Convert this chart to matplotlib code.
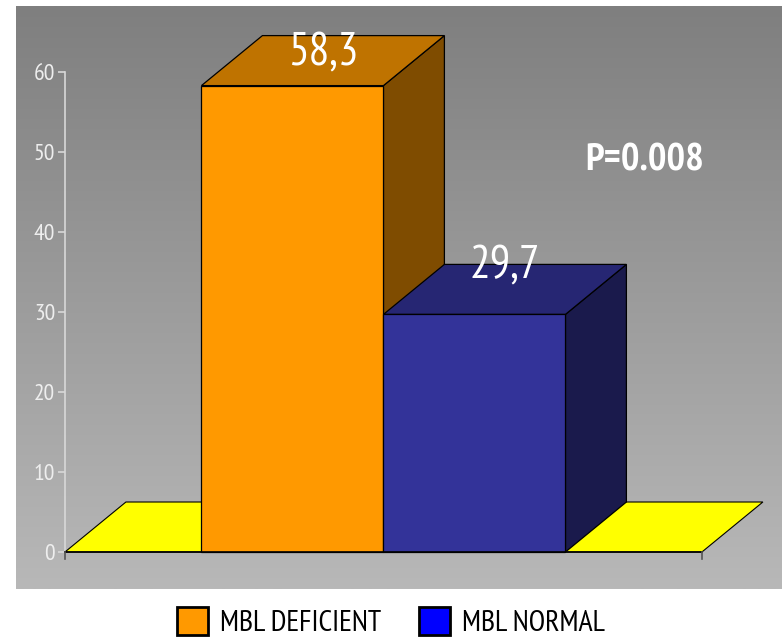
import matplotlib
matplotlib.use("Agg")
import matplotlib.pyplot as plt
import numpy as np
from matplotlib.patches import Polygon, Patch
from matplotlib import font_manager

names = {f.name for f in font_manager.fontManager.ttflist}
NARROW = "DejaVu Sans"
for cand in ["Liberation Sans Narrow", "Arial Narrow", "PT Sans Narrow", "Archivo Narrow"]:
    if cand in names:
        NARROW = cand
        break
FAM = [NARROW, "DejaVu Sans"]

# ---- data ----
categories = ["MBL DEFICIENT", "MBL NORMAL"]
values = [58.3, 29.7]
value_labels = ["58,3", "29,7"]
yticks = [0, 10, 20, 30, 40, 50, 60]
annotation = "P=0.008"

# ---- styles ----
front_colors = ["#FF9900", "#333399"]
top_colors = ["#BF7300", "#262673"]
side_colors = ["#7F4C00", "#1A1A4C"]
legend_colors = ["#FF9900", "#0000FF"]
floor_color = "#FFFF00"

W, H = 784, 639
fig = plt.figure(figsize=(W / 100, H / 100), dpi=100)

xpx0, xpx1, ypx0, ypx1 = 16, 782, 6, 589
ax = fig.add_axes([xpx0 / W, (H - ypx1) / H, (xpx1 - xpx0) / W, (ypx1 - ypx0) / H])

gap = 0.75
bw = 1.0
n = len(values)
floor_len = 2 * gap + n * bw
dx, dy = 0.335, 6.25
ax.set_xlim(-0.269, 3.940)
ax.set_ylim(-4.625, 68.25)

grad = np.linspace(0, 1, 256).reshape(-1, 1)
ax.imshow(grad, extent=[-0.269, 3.940, -4.625, 68.25], aspect="auto",
          cmap=matplotlib.colors.LinearSegmentedColormap.from_list("g", ["#b8b8b8", "#7f7f7f"]),
          origin="lower", zorder=0)

floor = Polygon([(0, 0), (floor_len, 0), (floor_len + dx, dy), (dx, dy)],
                closed=True, facecolor=floor_color, edgecolor="black", lw=0.8, zorder=2)
ax.add_patch(floor)

label_offsets = [4.1, 6.1]
for i, v in enumerate(values):
    x0 = gap + i * bw
    x1 = x0 + bw
    front = Polygon([(x0, 0), (x1, 0), (x1, v), (x0, v)], closed=True,
                    facecolor=front_colors[i], edgecolor="black", lw=0.9, zorder=3 + i)
    top = Polygon([(x0, v), (x1, v), (x1 + dx, v + dy), (x0 + dx, v + dy)], closed=True,
                  facecolor=top_colors[i], edgecolor="black", lw=0.9, zorder=3 + i)
    side = Polygon([(x1, 0), (x1 + dx, dy), (x1 + dx, v + dy), (x1, v)], closed=True,
                   facecolor=side_colors[i], edgecolor="black", lw=0.9, zorder=3 + i)
    for p in (side, top, front):
        ax.add_patch(p)
    ax.text(x0 + bw / 2 + dx / 2, v + label_offsets[i], value_labels[i],
            ha="center", va="center", color="white", fontsize=33, family=FAM, zorder=10)

ax.plot([0, floor_len], [0, 0], color="black", lw=1.2, zorder=6)
for xt in (0, floor_len):
    ax.plot([xt, xt], [0, -0.9], color="#555555", lw=1.2, zorder=6, clip_on=False)

for s in ["top", "right", "bottom"]:
    ax.spines[s].set_visible(False)
ax.spines["left"].set_position(("data", 0))
ax.spines["left"].set_bounds(0, 60)
ax.spines["left"].set_color("#d8d8d8")
ax.spines["left"].set_linewidth(1.2)
ax.spines["left"].set_zorder(1)
ax.set_yticks(yticks)
ax.set_yticklabels([str(t) for t in yticks], family=FAM, fontsize=17, color="#eeeeee")
ax.tick_params(axis="y", colors="#d8d8d8", length=5, width=1.2, pad=2, labelcolor="#eeeeee")
ax.set_xticks([])

ax.text(3.187, 48.9, annotation, ha="center", va="center", color="white",
        fontsize=28, fontweight="bold", family=FAM, zorder=10)

handles = [Patch(facecolor=c, edgecolor="black", lw=2) for c in legend_colors]
fig.legend(handles, categories, loc="center", bbox_to_anchor=(391 / W, (H - 622) / H),
           ncol=2, frameon=False, prop={"family": FAM, "size": 21.5},
           handlelength=1.05, handleheight=1.05, handletextpad=0.4, columnspacing=1.25)

fig.savefig("out.png", dpi=100)
